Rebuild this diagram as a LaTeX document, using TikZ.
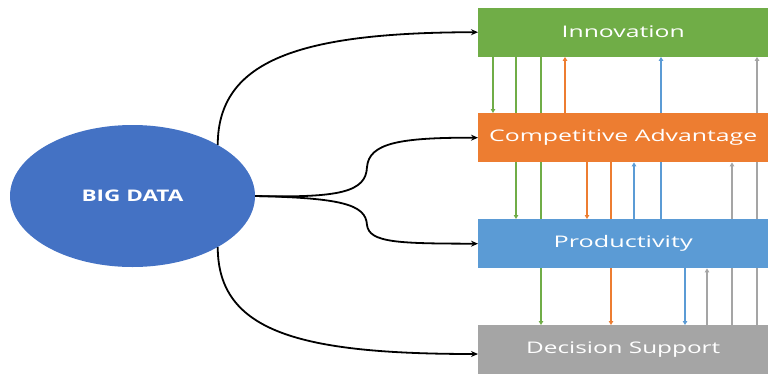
\documentclass[tikz,border=0pt]{standalone}
\usepackage{fontspec}
\setmainfont{Open Sans}
\usetikzlibrary{shapes.geometric,arrows.meta}
\definecolor{cgreen}{HTML}{70AD47}
\definecolor{corange}{HTML}{ED7D31}
\definecolor{cblue}{HTML}{5B9BD5}
\definecolor{cgray}{HTML}{A5A5A5}
\definecolor{cbig}{HTML}{4472C4}
\pgfdeclarelayer{background}
\pgfsetlayers{background,main}
\newcommand{\boxtext}[2]{\raisebox{-1.5pt}{\resizebox{#1}{\height}{#2}}}
\tikzset{
  box/.style={rectangle, inner sep=0pt, minimum width=290pt, minimum height=49pt,
    anchor=north west, text=white, font=\fontsize{16}{19}\selectfont},
  bigarrow/.style={line width=1.8pt, -{Stealth[length=7pt,width=6pt]}},
  varrow/.style={line width=1.6pt, -{Triangle[length=4pt,width=4.5pt]}},
}
\begin{document}
\begin{tikzpicture}[x=1pt,y=-1pt]
\useasboundingbox (0,0) rectangle (768,375);
\clip (0,0) rectangle (768,375);

\node[ellipse, fill=cbig, minimum width=245pt, minimum height=142pt, inner sep=0pt,
  text=white, font=\fontsize{16}{19}\selectfont\bfseries] (big) at (132.5,196)
  {\resizebox{102pt}{\height}{BIG DATA}};

\node[box, fill=cgreen] (inno) at (478,7.5) {\boxtext{123pt}{Innovation}};
\node[box, fill=corange] (comp) at (478,113) {\boxtext{268pt}{Competitive Advantage}};
\node[box, fill=cblue] (prod) at (478,219) {\boxtext{139pt}{Productivity}};
\node[box, fill=cgray] (deci) at (478,325) {\boxtext{194pt}{Decision Support}};

\begin{pgfonlayer}{background}
% green: from Innovation downward
\draw[varrow, cgreen] (inno.south -| 493,0) -- (comp.north -| 493,0);
\draw[varrow, cgreen] (inno.south -| 516,0) -- (prod.north -| 516,0);
\draw[varrow, cgreen] (inno.south -| 541,0) -- (deci.north -| 541,0);
% orange: from Competitive Advantage
\draw[varrow, corange] (comp.north -| 565,0) -- (inno.south -| 565,0);
\draw[varrow, corange] (comp.south -| 587,0) -- (prod.north -| 587,0);
\draw[varrow, corange] (comp.south -| 611,0) -- (deci.north -| 611,0);
% blue: from Productivity
\draw[varrow, cblue] (prod.north -| 634,0) -- (comp.south -| 634,0);
\draw[varrow, cblue] (prod.north -| 661,0) -- (inno.south -| 661,0);
\draw[varrow, cblue] (prod.south -| 685,0) -- (deci.north -| 685,0);
% gray: from Decision Support
\draw[varrow, cgray] (deci.north -| 707,0) -- (prod.south -| 707,0);
\draw[varrow, cgray] (deci.north -| 732,0) -- (comp.south -| 732,0);
\draw[varrow, cgray] (deci.north -| 757,0) -- (inno.south -| 757,0);
\end{pgfonlayer}

\draw[bigarrow] (big.31) .. controls (218,60) and (300,32.5) .. (inno.west);
\draw[bigarrow] (big.east) .. controls (340,198) and (366,192) .. (367,167)
  .. controls (369,143) and (400,137.5) .. (comp.west);
\draw[bigarrow] (big.east) .. controls (340,198) and (366,204) .. (367,225)
  .. controls (369,243) and (400,243.5) .. (prod.west);
\draw[bigarrow] (big.-31) .. controls (218,332) and (300,354) .. (deci.west |- 0,354);
\end{tikzpicture}
\end{document}
